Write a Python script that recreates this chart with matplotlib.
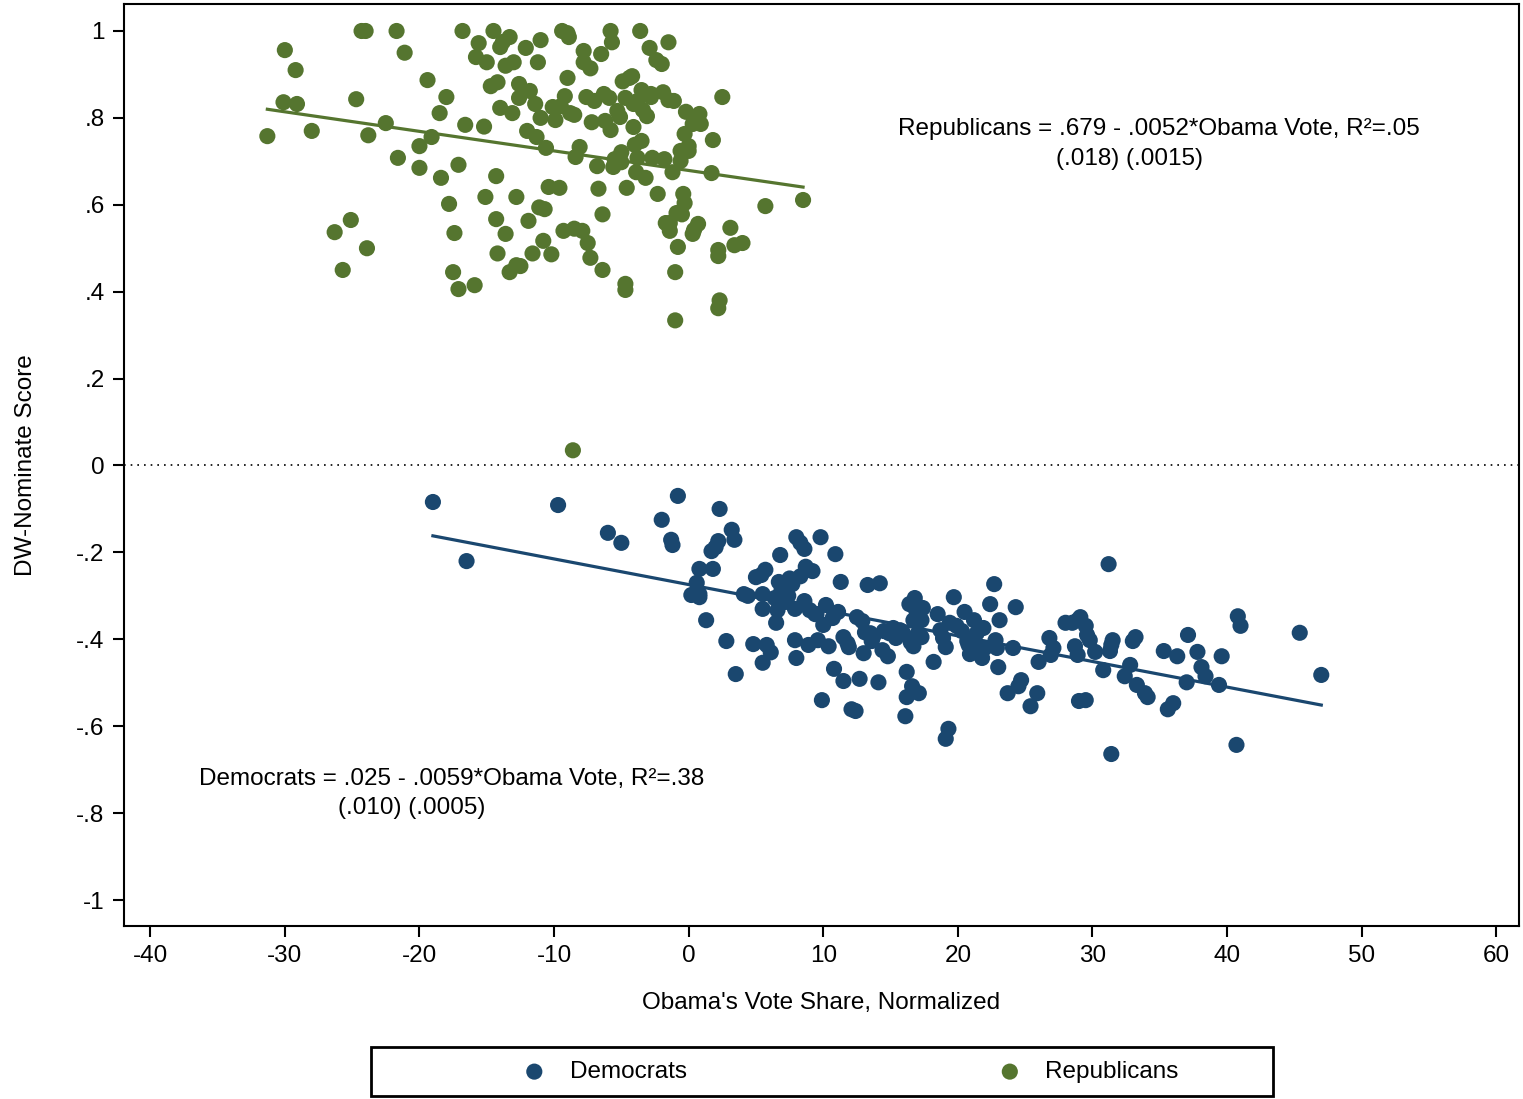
import matplotlib.pyplot as plt
from matplotlib.patches import Rectangle
import numpy as np

plt.rcParams['font.family'] = ['Liberation Sans', 'DejaVu Sans']
plt.rcParams['axes.unicode_minus'] = False

# Republicans: Obama vote share (normalized), DW-Nominate score
rep_x = [-31.3, -30.0, -30.1, -29.2, -29.1, -28.0, -26.3, -25.7, -25.1, -24.7, -24.3, -24.0,
         -23.9, -23.8, -22.5, -21.7, -21.6, -21.1, -20.0, -20.0, -19.4, -19.1, -18.5, -18.4,
         -18.0, -17.8, -17.5, -17.4, -17.1, -17.1, -16.8, -16.6, -15.9, -15.8, -15.6, -15.1,
         -15.2, -15.0, -14.5, -14.7, -14.3, -14.2, -14.2, -14.3, -14.0, -14.0, -13.8, -13.6,
         -13.6, -13.3, -13.3, -13.1, -13.0, -12.8, -12.8, -12.6, -12.6, -12.5, -12.1, -12.0,
         -11.9, -11.8, -11.6, -11.4, -11.3, -11.2, -11.1, -11.0, -11.0, -10.8, -10.7, -10.6,
         -10.4, -10.2, -10.1, -9.9, -9.5, -9.6, -9.4, -9.3, -9.2, -9.0, -9.0, -8.9, -8.8, -8.5,
         -8.4, -8.5, -8.1, -7.9, -7.8, -7.8, -7.6, -7.5, -7.3, -7.3, -7.2, -7.0, -6.8, -6.7,
         -6.5, -6.4, -6.4, -6.3, -6.2, -5.9, -5.8, -5.8, -5.7, -5.6, -5.5, -5.3, -5.1, -5.0,
         -5.0, -4.9, -4.7, -4.6, -4.7, -4.4, -4.7, -4.2, -4.1, -4.1, -4.0, -3.9, -3.8, -3.8,
         -3.6, -3.5, -3.5, -3.4, -3.2, -3.1, -2.9, -2.8, -2.8, -2.7, -2.4, -2.3, -2.0, -1.9,
         -1.8, -1.7, -1.5, -1.5, -1.4, -1.4, -1.2, -1.1, -1.0, -0.9, -1.0, -0.8, -0.6, -0.6,
         -0.5, -0.4, -0.3, -0.3, -0.2, 0.0, 0.0, 0.3, 0.4, 0.7, 0.3, 0.6, 0.8, 0.9, 1.7, 1.8,
         2.2, 2.2, 2.3, 2.2, 2.5, 3.1, 3.4, 4.0, 5.7, 8.5, -8.6]
rep_y = [.758, .956, .836, .910, .832, .770, .537, .450, .565, .843, 1.0, 1.0,
         .500, .760, .788, 1.0, .708, .950, .735, .685, .887, .756, .811, .662,
         .848, .602, .445, .535, .406, .692, 1.0, .784, .415, .940, .972, .618,
         .780, .928, 1.0, .873, .666, .882, .488, .567, .963, .823, .975, .920,
         .533, .445, .986, .811, .928, .618, .461, .846, .878, .459, .961, .770,
         .563, .862, .488, .832, .756, .928, .594, .979, .800, .517, .590, .731,
         .641, .486, .825, .795, .827, .639, 1.0, .540, .850, .995, .892, .986, .811, .807,
         .710, .545, .733, .540, .954, .928, .848, .512, .478, .914, .790, .839, .689, .637,
         .947, .578, .450, .855, .793, .846, 1.0, .772, .974, .687, .705, .816, .802, .721,
         .698, .884, .846, .639, .418, .892, .404, .896, .832, .779, .738, .675, .839, .708,
         1.0, .864, .747, .818, .662, .804, .961, .848, .855, .708, .933, .625, .924, .859,
         .705, .558, .974, .841, .540, .558, .675, .839, .445, .581, .334, .503, .701, .724,
         .578, .625, .763, .604, .814, .735, .724, .533, .542, .556, .786, .802, .809, .786,
         .673, .749, .482, .496, .380, .362, .848, .547, .507, .512, .597, .611, .035]

# Democrats
dem_x = [-19.0, -16.5, -9.7, -6.0, -5.0, -2.0, -1.3, -1.2, -0.8, 0.2, 0.6, 0.8, 0.8, 0.8,
         1.3, 1.7, 1.8, 2.0, 2.3, 2.2, 2.8, 3.2, 3.4, 3.5, 4.1, 4.4, 4.8, 5.0, 5.4, 5.5, 5.5,
         5.5, 5.7, 5.8, 6.1, 6.4, 6.5, 6.6, 6.7, 6.8, 6.9, 7.1, 7.2, 7.4, 7.5, 7.7, 7.9, 7.9,
         8.0, 8.0, 8.3, 8.3, 8.6, 8.6, 8.7, 8.9, 9.0, 9.2, 9.4, 9.5, 9.6, 9.8, 9.9, 10.0, 10.2,
         10.4, 10.7, 10.8, 10.9, 11.1, 11.3, 11.5, 11.5, 11.8, 11.9, 12.1, 12.4, 12.5, 12.7,
         12.9, 13.0, 13.1, 13.3, 13.5, 13.6, 13.7, 14.1, 14.2, 14.4, 14.5, 14.8, 14.9, 15.2,
         15.4, 15.7, 15.9, 16.1, 16.2, 16.2, 16.4, 16.5, 16.6, 16.7, 16.7, 16.8, 16.9, 17.0,
         17.0, 17.1, 17.3, 17.3, 17.4, 18.2, 18.5, 18.7, 18.9, 19.1, 19.1, 19.3, 19.4, 19.7,
         19.9, 20.3, 20.5, 20.7, 20.8, 20.9, 21.2, 21.4, 21.6, 21.8, 21.9, 22.0, 22.4, 22.7,
         22.8, 22.9, 23.0, 23.1, 23.7, 24.1, 24.3, 24.5, 24.7, 25.4, 25.9, 26.0, 26.8, 26.9,
         27.1, 28.0, 28.5, 28.7, 28.9, 28.9, 29.0, 29.1, 29.5, 29.5, 29.6, 29.8, 30.2, 30.8,
         31.2, 31.3, 31.4, 31.5, 31.4, 32.4, 32.8, 33.0, 33.2, 33.3, 33.9, 34.1, 35.3, 35.6,
         36.0, 36.3, 37.0, 37.1, 37.8, 38.1, 38.4, 39.4, 39.6, 40.7, 40.8, 41.0, 45.4, 47.0]
dem_y = [-.084, -.220, -.091, -.155, -.178, -.125, -.171, -.183, -.070, -.298, -.270, -.238,
         -.296, -.303, -.356, -.197, -.238, -.188, -.100, -.174, -.404, -.148, -.171, -.480,
         -.296, -.300, -.411, -.257, -.252, -.330, -.454, -.296, -.240, -.413, -.430, -.305,
         -.362, -.333, -.268, -.206, -.287, -.305, -.314, -.300, -.260, -.273, -.330, -.402,
         -.443, -.165, -.255, -.178, -.192, -.312, -.233, -.413, -.333, -.243, -.342, -.342,
         -.402, -.165, -.540, -.367, -.321, -.416, -.351, -.468, -.204, -.337, -.268, -.496,
         -.395, -.409, -.418, -.561, -.565, -.349, -.491, -.358, -.432, -.384, -.275, -.386,
         -.404, -.395, -.499, -.271, -.425, -.381, -.439, -.386, -.374, -.397, -.379, -.384,
         -.577, -.475, -.533, -.319, -.407, -.508, -.356, -.416, -.305, -.333, -.388, -.324,
         -.524, -.356, -.395, -.328, -.452, -.342, -.379, -.397, -.418, -.629, -.606, -.362,
         -.303, -.369, -.381, -.337, -.404, -.413, -.434, -.356, -.386, -.420, -.443, -.374,
         -.420, -.319, -.273, -.402, -.420, -.464, -.356, -.524, -.420, -.326, -.508, -.494,
         -.554, -.524, -.452, -.397, -.436, -.420, -.362, -.362, -.416, -.356, -.436, -.542,
         -.349, -.369, -.540, -.390, -.402, -.429, -.471, -.227, -.427, -.664, -.402, -.413,
         -.485, -.459, -.404, -.395, -.505, -.524, -.533, -.427, -.561, -.547, -.439, -.499,
         -.390, -.429, -.464, -.485, -.505, -.439, -.643, -.347, -.369, -.385, -.482]

# fitted lines (intercept, slope) as drawn
rep_fit = (0.679, -0.0045)
dem_fit = (-0.274, -0.0059)

dem_color = '#1a476f'
rep_color = '#55752f'
fs = 17.5

fig = plt.figure(figsize=(15.23, 10.99), dpi=100)
ax = fig.add_axes([124/1523, 1-926/1099, (1519-124)/1523, (926-4)/1099])

ax.scatter(dem_x, dem_y, s=135, color=dem_color, edgecolors='none', label='Democrats', zorder=3)
ax.scatter(rep_x, rep_y, s=135, color=rep_color, edgecolors='none', label='Republicans', zorder=3)

rx = np.array([min(rep_x[:-1]), max(rep_x)])
ax.plot(rx, rep_fit[0] + rep_fit[1]*rx, color=rep_color, lw=2.3, zorder=2)
dx = np.array([min(dem_x), max(dem_x)])
ax.plot(dx, dem_fit[0] + dem_fit[1]*dx, color=dem_color, lw=2.3, zorder=2)

ax.axhline(0, color='black', lw=1.2, ls=(0, (1, 3)), zorder=1)

ax.set_xlim(-41.95, 61.69)
ax.set_ylim(-1.0598, 1.0621)
ax.set_xticks(range(-40, 61, 10))
yt = [1, .8, .6, .4, .2, 0, -.2, -.4, -.6, -.8, -1]
ax.set_yticks(yt)
ax.set_yticklabels(['1', '.8', '.6', '.4', '.2', '0', '-.2', '-.4', '-.6', '-.8', '-1'])
ax.tick_params(labelsize=fs, length=8, width=1.5, pad=6)
for sp in ax.spines.values():
    sp.set_linewidth(1.5)

ax.set_xlabel("Obama's Vote Share, Normalized", fontsize=fs, labelpad=18)
ax.set_ylabel('DW-Nominate Score', fontsize=fs, labelpad=28)

ax.text(15.56, .775, 'Republicans = .679 - .0052*Obama Vote, R²=.05', fontsize=fs, va='center')
ax.text(27.3, .705, '(.018) (.0015)', fontsize=fs, va='center')
ax.text(-36.37, -.7215, 'Democrats = .025 - .0059*Obama Vote, R²=.38', fontsize=fs, va='center')
ax.text(-26.05, -.788, '(.010) (.0005)', fontsize=fs, va='center')

fig.patches.append(Rectangle((371/1523, 3/1099), 902/1523, 49/1099, transform=fig.transFigure,
                             fill=False, lw=2, edgecolor='black'))
fig.legend(loc='center left', bbox_to_anchor=(510/1523, 27/1099), ncol=2, frameon=False,
           fontsize=fs, borderpad=0, handlelength=1, handletextpad=0.95, columnspacing=12.8,
           markerscale=1.0)

fig.savefig('out.png', dpi=100)
